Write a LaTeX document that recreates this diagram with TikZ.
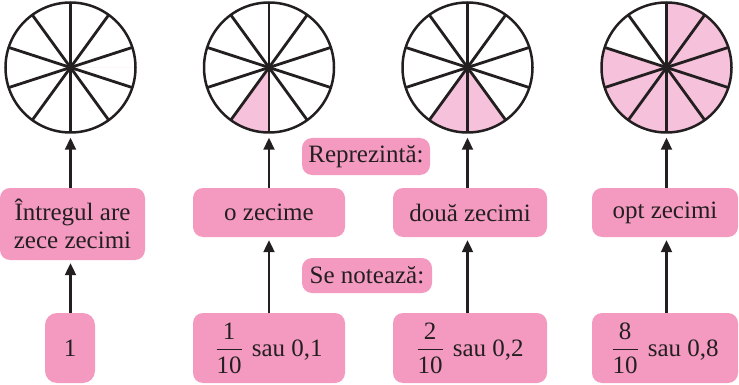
\documentclass[tikz,border=0pt]{standalone}
\usepackage{amsmath}
\usepackage{fontspec}
\setmainfont{Liberation Serif}
\usetikzlibrary{arrows.meta}
\definecolor{boxpink}{RGB}{244,154,193}
\definecolor{secpink}{RGB}{246,194,219}
\definecolor{ink}{RGB}{35,31,32}
\begin{document}
\begin{tikzpicture}[x=1pt,y=1pt,
  lbl/.style={fill=boxpink, rounded corners=10pt, inner sep=0pt, align=center,
    text=ink, font=\fontsize{25}{28}\selectfont},
  wheel/.style={circle, draw=ink, line width=2.5pt, minimum size=130pt, inner sep=0pt},
  arr/.style={draw=ink, line width=2.2pt, -{Triangle[length=12pt,width=11pt]}},
  spoke/.style={draw=ink, line width=2.8pt}]
\useasboundingbox (0,0) rectangle (739,-385);

% wheels
\foreach \cx/\nm/\sa/\ea in {70.5/C1/0/0, 269/C2/234/270, 467.5/C3/234/306, 666.5/C4/162/450} {
  \fill[secpink] (\cx,-67.5) -- ++(\sa:65) arc[start angle=\sa,end angle=\ea,radius=65] -- cycle;
  \foreach \a in {90,126,...,414} \draw[spoke] (\cx,-67.5) -- ++(\a:65);
  \fill[ink] (\cx,-67.5) circle[radius=3.2];
  \node[wheel] (\nm) at (\cx,-67.5) {};
}

% middle row
\node[lbl, minimum width=145pt, minimum height=72pt] (W1) at (72.5,-224) {Întregul are\\zece zecimi};
\node[lbl, minimum width=152pt, minimum height=49pt] (R1) at (269,-212.5) {o zecime};
\node[lbl, minimum width=154pt, minimum height=49pt] (R2) at (470,-212.5) {două zecimi};
\node[lbl, minimum width=146pt, minimum height=49pt] (R3) at (665,-212.5) {opt zecimi};

% captions
\node[lbl, minimum width=128pt, minimum height=37pt] (Rep) at (366,-156.5) {Reprezintă:};
\node[lbl, minimum width=130pt, minimum height=35pt] (Not) at (367,-275.5) {Se notează:};

% bottom row
\node[lbl, minimum width=50pt, minimum height=70pt, rounded corners=12pt] (N1) at (70,-348) {1};
\node[lbl, minimum width=152pt, minimum height=70pt] (F1) at (269,-348) {$\dfrac{\text{1}}{\text{10}}$\hspace{9pt}sau 0,1};
\node[lbl, minimum width=154pt, minimum height=70pt] (F2) at (470,-348) {$\dfrac{\text{2}}{\text{10}}$\hspace{9pt}sau 0,2};
\node[lbl, minimum width=146pt, minimum height=70pt] (F3) at (665,-348) {$\dfrac{\text{8}}{\text{10}}$\hspace{9pt}sau 0,8};

% arrows to wheels
\draw[arr, shorten >=4pt] (C1.south |- W1.north) -- (C1.south);
\draw[arr, shorten >=4pt] (C2.south |- R1.north) -- (C2.south);
\draw[arr, shorten >=4pt] (C3.south |- R2.north) -- (C3.south);
\draw[arr, shorten >=4pt] (C4.south |- R3.north) -- (C4.south);

% arrows from notation to meaning
\draw[arr, shorten >=3pt] (C1.south |- N1.north) -- (C1.south |- W1.south);
\draw[arr, shorten >=3pt] (C2.south |- F1.north) -- (C2.south |- R1.south);
\draw[arr, shorten >=3pt] (C3.south |- F2.north) -- (C3.south |- R2.south);
\draw[arr, shorten >=3pt] (C4.south |- F3.north) -- (C4.south |- R3.south);
\end{tikzpicture}
\end{document}
